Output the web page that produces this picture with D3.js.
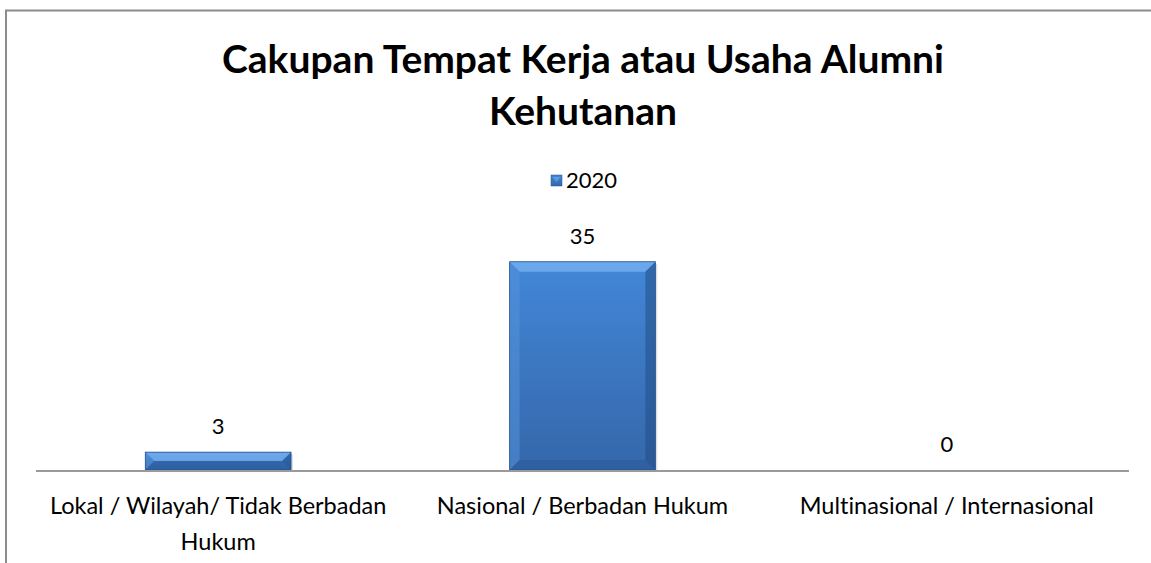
<!DOCTYPE html>
<html>
<head>
<meta charset="utf-8">
<script src="https://cdn.jsdelivr.net/npm/d3@7"></script>
<style>
  body { margin: 0; background: #fff; }
  svg { display: block; font-family: Lato, "Open Sans", sans-serif; font-variant-ligatures: none; }
</style>
</head>
<body>
<div id="chart"></div>
<script>
const categories = [
    ["Lokal / Wilayah/ Tidak Berbadan", "Hukum"],
    ["Nasional / Berbadan Hukum"],
    ["Multinasional / Internasional"]
];
const seriesName = "2020";
const values = [3, 35, 0];
const titleLines = ["Cakupan Tempat Kerja atau Usaha Alumni", "Kehutanan"];

const width = 1151;
const height = 563;
const margin = { top: 232, right: 22, bottom: 93, left: 36 };

const svg = d3.select("#chart")
    .append("svg")
    .attr("width", width)
    .attr("height", height);

// bevel-ish gradient like the office chart style
const defs = svg.append("defs");
const grad = defs.append("linearGradient")
    .attr("id", "barFill")
    .attr("x1", 0).attr("y1", 0).attr("x2", 0).attr("y2", 1);
grad.append("stop").attr("offset", "0%").attr("stop-color", "#4287d8");
grad.append("stop").attr("offset", "100%").attr("stop-color", "#3567aa");

// outer frame
svg.append("path")
    .attr("d", `M6,${height} L6,10.5 L${width},10.5`)
    .attr("fill", "none")
    .attr("stroke", "#8c8c8c")
    .attr("stroke-width", 2);

// title
svg.append("g")
    .selectAll("text")
    .data(titleLines)
    .enter()
    .append("text")
    .attr("x", 583)
    .attr("y", (d, i) => 73 + i * 52)
    .attr("text-anchor", "middle")
    .attr("font-size", 39)
    .attr("font-weight", "bold")
    .attr("fill", "#000")
    .text(d => d);

// legend
const legend = svg.append("g").attr("transform", "translate(551,175)");
legend.append("rect")
    .attr("width", 11).attr("height", 11)
    .attr("fill", "url(#barFill)")
    .attr("stroke", "#2a5590").attr("stroke-width", 0.5);
legend.append("path")
    .attr("d", "M1.5,2 L9.5,2 L5.5,7 Z")
    .attr("fill", "#6aa6ea")
    .attr("opacity", 0.7);
legend.append("text")
    .attr("x", 15).attr("y", 13)
    .attr("font-size", 22)
    .text(seriesName);

const x = d3.scaleBand()
    .domain(d3.range(categories.length))
    .range([margin.left, width - margin.right])
    .paddingInner(0.6)
    .paddingOuter(0.3);

const y = d3.scaleLinear()
    .domain([0, 40])
    .range([height - margin.bottom, margin.top]);

const bars = svg.append("g").attr("class", "bars");

values.forEach((v, i) => {
    if (v <= 0) return;
    const x0 = x(i), x1 = x(i) + x.bandwidth();
    const y0 = y(v), y1 = y(0);
    const b = Math.min(10, (y1 - y0) / 2);
    const g = bars.append("g");
    // shadow
    g.append("rect")
        .attr("x", x0 + 2).attr("y", y0 + 2)
        .attr("width", x1 - x0).attr("height", y1 - y0)
        .attr("fill", "#000").attr("opacity", 0.12);
    g.append("rect")
        .attr("x", x0).attr("y", y0)
        .attr("width", x1 - x0).attr("height", y1 - y0)
        .attr("fill", "url(#barFill)");
    // top bevel
    g.append("path")
        .attr("d", `M${x0},${y0} L${x1},${y0} L${x1 - b},${y0 + b} L${x0 + b},${y0 + b} Z`)
        .attr("fill", "#79b3f2").attr("opacity", 0.75);
    // left bevel
    g.append("path")
        .attr("d", `M${x0},${y0} L${x0 + b},${y0 + b} L${x0 + b},${y1 - b} L${x0},${y1} Z`)
        .attr("fill", "#5693dc").attr("opacity", 0.5);
    // right bevel
    g.append("path")
        .attr("d", `M${x1},${y0} L${x1},${y1} L${x1 - b},${y1 - b} L${x1 - b},${y0 + b} Z`)
        .attr("fill", "#1f4a80").attr("opacity", 0.5);
    // bottom bevel
    g.append("path")
        .attr("d", `M${x0},${y1} L${x1},${y1} L${x1 - b},${y1 - b} L${x0 + b},${y1 - b} Z`)
        .attr("fill", "#2a5a99").attr("opacity", 0.55);
    g.append("rect")
        .attr("x", x0).attr("y", y0)
        .attr("width", x1 - x0).attr("height", y1 - y0)
        .attr("fill", "none")
        .attr("stroke", "#24508a").attr("stroke-width", 0.8);
});

// value labels
svg.append("g")
    .selectAll("text")
    .data(values)
    .enter()
    .append("text")
    .attr("x", (d, i) => x(i) + x.bandwidth() / 2)
    .attr("y", d => y(d) - 18)
    .attr("text-anchor", "middle")
    .attr("font-size", 22)
    .text(d => d);

// category axis
const axis = svg.append("g")
    .attr("transform", `translate(0,${y(0)})`);
axis.append("line")
    .attr("x1", margin.left).attr("x2", width - margin.right)
    .attr("y1", 1).attr("y2", 1)
    .attr("stroke", "#9a9a9a").attr("stroke-width", 2);

axis.selectAll("text.cat")
    .data(categories)
    .enter()
    .append("text")
    .attr("class", "cat")
    .attr("x", (d, i) => x(i) + x.bandwidth() / 2)
    .attr("y", 44)
    .attr("text-anchor", "middle")
    .attr("font-size", 23.5)
    .selectAll("tspan")
    .data(d => d)
    .enter()
    .append("tspan")
    .attr("x", function() { return d3.select(this.parentNode).attr("x"); })
    .attr("dy", (d, i) => i === 0 ? 0 : 36)
    .text(d => d);
</script>
</body>
</html>
